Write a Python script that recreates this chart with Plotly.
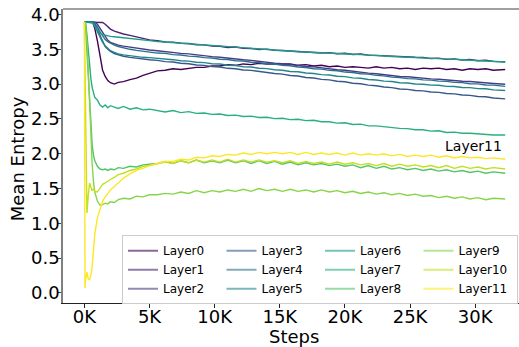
import plotly.graph_objects as go

# Training steps at which the mean attention entropy was logged
steps = [0, 50, 100, 200, 300, 400, 500, 600, 700, 800, 1000, 1200, 1400, 1600, 1800,
         2000, 2300, 2600, 3000, 3500, 4000, 4500, 5000,
         5600, 6200, 6800, 7400, 8000, 8600, 9200, 9800, 10400, 11000, 11600, 12200,
         12800, 13400, 14000, 14600, 15200, 15800, 16400, 17000, 17600, 18200, 18800,
         19400, 20000, 20600, 21200, 21800, 22400, 23000, 23600, 24200, 24800, 25400,
         26000, 26600, 27200, 27800, 28400, 29000, 29600, 30200, 30800, 31400, 32300]

layer0 = [3.89, 3.89, 3.89, 3.89, 3.89, 3.89, 3.89, 3.885, 3.86, 3.80, 3.62, 3.38, 3.20,
          3.11, 3.05, 3.02, 3.00, 3.025, 3.035, 3.065, 3.085, 3.125, 3.155,
          3.19, 3.20, 3.22, 3.21, 3.23, 3.24, 3.24, 3.26, 3.26, 3.28, 3.27, 3.29, 3.28,
          3.30, 3.29, 3.29, 3.28, 3.29, 3.27, 3.28, 3.26, 3.27, 3.25, 3.26, 3.24, 3.25,
          3.24, 3.23, 3.25, 3.23, 3.24, 3.22, 3.23, 3.21, 3.23, 3.22, 3.23, 3.21, 3.22,
          3.20, 3.22, 3.21, 3.22, 3.20, 3.21]
layer1 = [3.89, 3.89, 3.89, 3.89, 3.89, 3.89, 3.89, 3.89, 3.89, 3.89, 3.89, 3.89, 3.885,
          3.86, 3.82, 3.79, 3.76, 3.74, 3.72, 3.70, 3.68, 3.655, 3.635,
          3.624, 3.606, 3.603, 3.587, 3.584, 3.566, 3.563, 3.546, 3.543, 3.527, 3.533,
          3.516, 3.512, 3.497, 3.503, 3.486, 3.483, 3.476, 3.473, 3.466, 3.463, 3.447,
          3.453, 3.436, 3.443, 3.426, 3.433, 3.416, 3.413, 3.406, 3.403, 3.396, 3.393,
          3.386, 3.383, 3.367, 3.373, 3.356, 3.363, 3.346, 3.353, 3.336, 3.343, 3.326, 3.322]
layer2 = [3.89, 3.89, 3.89, 3.89, 3.89, 3.89, 3.89, 3.89, 3.89, 3.89, 3.86, 3.80, 3.73,
          3.67, 3.63, 3.60, 3.58, 3.56, 3.545, 3.53, 3.515, 3.50, 3.49,
          3.48, 3.465, 3.457, 3.441, 3.434, 3.418, 3.411, 3.395, 3.387, 3.372, 3.364,
          3.349, 3.341, 3.325, 3.318, 3.302, 3.294, 3.278, 3.270, 3.254, 3.247, 3.230,
          3.223, 3.206, 3.199, 3.182, 3.175, 3.158, 3.150, 3.134, 3.127, 3.110, 3.106,
          3.093, 3.088, 3.076, 3.071, 3.059, 3.055, 3.042, 3.038, 3.025, 3.021, 3.009, 2.998]
layer3 = [3.89, 3.89, 3.89, 3.89, 3.89, 3.89, 3.89, 3.89, 3.89, 3.86, 3.78, 3.68, 3.60,
          3.54, 3.50, 3.47, 3.44, 3.42, 3.40, 3.385, 3.37, 3.36, 3.35,
          3.341, 3.323, 3.317, 3.299, 3.293, 3.275, 3.269, 3.251, 3.245, 3.227, 3.221,
          3.203, 3.197, 3.179, 3.171, 3.152, 3.144, 3.124, 3.116, 3.096, 3.088, 3.068,
          3.061, 3.041, 3.033, 3.013, 3.005, 2.985, 2.977, 2.958, 2.950, 2.930, 2.924,
          2.908, 2.903, 2.886, 2.882, 2.865, 2.860, 2.844, 2.839, 2.823, 2.818, 2.801, 2.788]
layer4 = [3.89, 3.89, 3.89, 3.89, 3.89, 3.89, 3.89, 3.89, 3.89, 3.87, 3.82, 3.75, 3.69,
          3.64, 3.61, 3.585, 3.56, 3.54, 3.52, 3.50, 3.485, 3.47, 3.46,
          3.446, 3.441, 3.424, 3.419, 3.402, 3.397, 3.380, 3.375, 3.358, 3.353, 3.336,
          3.331, 3.314, 3.309, 3.292, 3.287, 3.269, 3.263, 3.245, 3.239, 3.221, 3.215,
          3.197, 3.191, 3.173, 3.167, 3.149, 3.143, 3.125, 3.119, 3.101, 3.095, 3.079,
          3.076, 3.061, 3.058, 3.043, 3.040, 3.025, 3.022, 3.006, 3.003, 2.988, 2.985, 2.968]
layer5 = [3.89, 3.89, 3.89, 3.89, 3.89, 3.89, 3.89, 3.89, 3.87, 3.83, 3.75, 3.67, 3.60,
          3.55, 3.51, 3.48, 3.455, 3.435, 3.42, 3.405, 3.395, 3.385, 3.38,
          3.372, 3.356, 3.351, 3.335, 3.330, 3.314, 3.309, 3.293, 3.288, 3.271, 3.267,
          3.250, 3.246, 3.229, 3.223, 3.206, 3.200, 3.182, 3.177, 3.159, 3.153, 3.136,
          3.130, 3.113, 3.107, 3.089, 3.084, 3.066, 3.060, 3.043, 3.037, 3.019, 3.016,
          3.002, 2.999, 2.985, 2.983, 2.968, 2.966, 2.952, 2.949, 2.935, 2.933, 2.918, 2.909]
layer6 = [3.89, 3.89, 3.89, 3.89, 3.89, 3.89, 3.89, 3.88, 3.86, 3.83, 3.77, 3.73, 3.71,
          3.70, 3.69, 3.685, 3.68, 3.675, 3.665, 3.655, 3.645, 3.635, 3.625,
          3.612, 3.604, 3.595, 3.588, 3.576, 3.568, 3.557, 3.549, 3.537, 3.530, 3.524,
          3.518, 3.506, 3.501, 3.494, 3.489, 3.478, 3.474, 3.466, 3.462, 3.455, 3.450,
          3.444, 3.440, 3.435, 3.430, 3.424, 3.420, 3.408, 3.404, 3.397, 3.393, 3.386,
          3.382, 3.377, 3.372, 3.366, 3.361, 3.356, 3.350, 3.346, 3.340, 3.335, 3.330, 3.318]
layer7 = [3.89, 3.89, 3.88, 3.70, 3.45, 3.25, 3.08, 2.95, 2.86, 2.81, 2.77, 2.70, 2.67,
          2.70, 2.66, 2.69, 2.67, 2.65, 2.68, 2.64, 2.66, 2.63, 2.64,
          2.62, 2.60, 2.62, 2.59, 2.605, 2.58, 2.585, 2.565, 2.57, 2.55, 2.555, 2.535,
          2.54, 2.52, 2.525, 2.505, 2.51, 2.49, 2.495, 2.475, 2.48, 2.46, 2.46, 2.44,
          2.445, 2.42, 2.425, 2.40, 2.40, 2.385, 2.38, 2.365, 2.36, 2.345, 2.345, 2.325,
          2.33, 2.305, 2.31, 2.295, 2.295, 2.285, 2.285, 2.27, 2.27]
layer8 = [3.89, 3.89, 3.80, 3.45, 3.05, 2.70, 2.40, 2.12, 1.98, 1.90, 1.82, 1.78, 1.77,
          1.78, 1.76, 1.78, 1.77, 1.80, 1.79, 1.82, 1.81, 1.84, 1.85,
          1.86, 1.89, 1.86, 1.90, 1.87, 1.91, 1.87, 1.90, 1.87, 1.91, 1.87, 1.90, 1.86,
          1.90, 1.86, 1.89, 1.85, 1.88, 1.84, 1.87, 1.84, 1.86, 1.83, 1.85, 1.82, 1.84,
          1.80, 1.83, 1.79, 1.82, 1.78, 1.80, 1.77, 1.79, 1.76, 1.78, 1.75, 1.77, 1.74,
          1.76, 1.73, 1.75, 1.72, 1.74, 1.72]
layer9 = [3.89, 3.89, 3.85, 3.60, 3.20, 2.70, 2.20, 1.85, 1.60, 1.45, 1.32, 1.26, 1.27,
          1.29, 1.28, 1.31, 1.30, 1.34, 1.36, 1.35, 1.39, 1.38, 1.41,
          1.41, 1.43, 1.42, 1.45, 1.43, 1.47, 1.44, 1.47, 1.45, 1.48, 1.46, 1.49, 1.46,
          1.50, 1.47, 1.49, 1.46, 1.49, 1.46, 1.48, 1.45, 1.48, 1.45, 1.47, 1.44, 1.46,
          1.43, 1.45, 1.42, 1.44, 1.41, 1.43, 1.40, 1.42, 1.39, 1.40, 1.37, 1.39, 1.36,
          1.38, 1.35, 1.37, 1.34, 1.36, 1.35]
layer10 = [3.89, 3.20, 2.20, 1.15, 1.40, 1.58, 1.52, 1.47, 1.50, 1.46, 1.45, 1.50, 1.56,
           1.58, 1.61, 1.63, 1.66, 1.70, 1.72, 1.76, 1.78, 1.82, 1.83,
           1.85, 1.88, 1.86, 1.90, 1.87, 1.91, 1.88, 1.91, 1.88, 1.92, 1.88, 1.91, 1.88,
           1.91, 1.88, 1.90, 1.87, 1.90, 1.86, 1.89, 1.86, 1.88, 1.85, 1.88, 1.85, 1.87,
           1.84, 1.86, 1.83, 1.86, 1.82, 1.85, 1.82, 1.84, 1.81, 1.83, 1.80, 1.83, 1.79,
           1.82, 1.79, 1.81, 1.78, 1.80, 1.78]
layer11 = [3.89, 0.07, 0.20, 0.30, 0.20, 0.19, 0.26, 0.38, 0.62, 0.85, 1.08, 1.22, 1.32,
           1.38, 1.44, 1.48, 1.53, 1.58, 1.65, 1.71, 1.76, 1.79, 1.83,
           1.86, 1.89, 1.89, 1.92, 1.91, 1.95, 1.94, 1.97, 1.96, 1.99, 1.98, 2.01, 1.99,
           2.02, 2.00, 2.02, 2.00, 2.02, 1.99, 2.02, 1.99, 2.01, 1.99, 2.01, 1.98, 2.01,
           1.98, 2.00, 1.98, 2.00, 1.97, 1.99, 1.96, 1.98, 1.96, 1.98, 1.95, 1.97, 1.94,
           1.96, 1.94, 1.95, 1.93, 1.94, 1.92]

layer_names = ["Layer0", "Layer1", "Layer2", "Layer3", "Layer4", "Layer5",
               "Layer6", "Layer7", "Layer8", "Layer9", "Layer10", "Layer11"]
layer_values = [layer0, layer1, layer2, layer3, layer4, layer5,
                layer6, layer7, layer8, layer9, layer10, layer11]

# viridis sampled at 12 evenly spaced points
colors = ["#440154", "#482173", "#433e85", "#38588c", "#2d708e", "#25858e",
          "#1e9b8a", "#2ab07f", "#52c569", "#86d549", "#c2df23", "#fde725"]

x_ticks = [0, 5000, 10000, 15000, 20000, 25000, 30000]
x_tick_labels = ["0K", "5K", "10K", "15K", "20K", "25K", "30K"]
y_ticks = [0.0, 0.5, 1.0, 1.5, 2.0, 2.5, 3.0, 3.5, 4.0]

FONT = "DejaVu Sans"

fig = go.Figure()
for name, vals, col in zip(layer_names, layer_values, colors):
    fig.add_trace(go.Scatter(x=steps, y=vals, mode="lines", name=name,
                             line=dict(color=col, width=1.4), showlegend=False))

# legend handles, column-major order over four columns
for idx in [0, 3, 6, 9, 1, 4, 7, 10, 2, 5, 8, 11]:
    fig.add_trace(go.Scatter(x=[None], y=[None], mode="lines", name=layer_names[idx],
                             line=dict(color=colors[idx], width=2), opacity=0.6,
                             showlegend=True))

fig.add_annotation(x=27500, y=2.11, text="Layer11", showarrow=False,
                   xanchor="left", yanchor="middle",
                   font=dict(family=FONT, size=14, color="black"))

# axis titles
fig.add_annotation(xref="paper", yref="paper", x=0.5055, y=-0.1124, text="Steps",
                   showarrow=False, xanchor="center", yanchor="middle",
                   font=dict(family=FONT, size=18, color="black"))
fig.add_annotation(xref="paper", yref="paper", x=-0.1009, y=0.4923, text="Mean Entropy",
                   showarrow=False, textangle=-90, xanchor="center", yanchor="middle",
                   font=dict(family=FONT, size=18, color="black"))

# top spine
fig.add_shape(type="line", xref="paper", yref="paper", x0=0, x1=1, y0=1, y1=1,
              line=dict(color="#808080", width=1.5))

fig.update_layout(
    width=519, height=347,
    margin=dict(l=63, r=0, t=9, b=44),
    plot_bgcolor="white", paper_bgcolor="white",
    font=dict(family=FONT, size=18, color="black"),
    showlegend=True,
    legend=dict(orientation="h", x=0.1294, xanchor="left", y=-0.004, yanchor="bottom",
                entrywidth=53.5, entrywidthmode="pixels",
                bgcolor="rgba(255,255,255,0.8)", bordercolor="#cccccc", borderwidth=1,
                font=dict(family=FONT, size=12, color="black"), tracegroupgap=0),
    xaxis=dict(range=[-1640, 33360], tickvals=x_ticks, ticktext=x_tick_labels,
               showgrid=False, zeroline=False, showline=True, linecolor="#222222",
               linewidth=1, ticks="outside", ticklen=4, tickcolor="#222222",
               tickfont=dict(family=FONT, size=18), ticklabelstandoff=-7,
               automargin=False),
    yaxis=dict(range=[-0.144, 4.079], tickvals=y_ticks, tickformat=".1f",
               showgrid=False, zeroline=False, showline=True, linecolor="#808080",
               linewidth=1.5, ticks="outside", ticklen=4, tickcolor="#444444",
               tickfont=dict(family=FONT, size=18), ticklabelstandoff=-6,
               automargin=False),
)

fig.write_html("out.html")
